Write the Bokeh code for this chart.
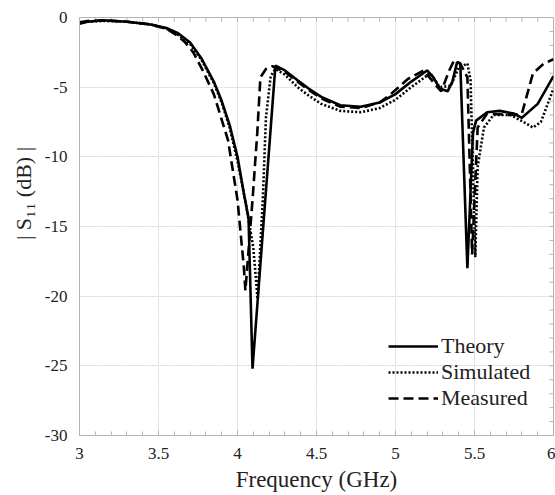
from bokeh.plotting import figure
from bokeh.models import Range1d, Legend, LegendItem, FixedTicker
from bokeh.embed import file_html
from bokeh.resources import INLINE

# ---- data ----
theory_f = [3.0, 3.05, 3.15, 3.3, 3.45, 3.55, 3.62, 3.7, 3.77, 3.85, 3.9, 3.95, 4.0, 4.04, 4.07,
            4.095, 4.24, 4.3, 4.38, 4.45, 4.53, 4.65, 4.78, 4.9, 5.0, 5.1, 5.2, 5.24, 5.28, 5.33,
            5.36, 5.39, 5.41, 5.455, 5.49, 5.51, 5.58, 5.66, 5.75, 5.8, 5.9, 6.0]
theory_db = [-0.45, -0.3, -0.2, -0.3, -0.5, -0.75, -1.1, -1.8, -2.9, -4.6, -6.0, -7.7, -10.0, -12.6, -14.4,
             -25.2, -3.45, -3.8, -4.5, -5.1, -5.7, -6.3, -6.4, -6.1, -5.5, -4.6, -3.8, -4.3, -5.1, -5.3,
             -4.6, -3.2, -3.3, -18.0, -8.3, -7.4, -6.8, -6.7, -6.9, -7.2, -6.2, -4.2]

sim_f = [3.0, 3.05, 3.15, 3.3, 3.45, 3.55, 3.62, 3.7, 3.77, 3.85, 3.9, 3.95, 4.0, 4.05, 4.1,
         4.127, 4.16, 4.18, 4.21, 4.24, 4.3, 4.38, 4.45, 4.53, 4.65, 4.78, 4.9, 5.0, 5.1, 5.16,
         5.22, 5.28, 5.35, 5.40, 5.455, 5.475, 5.505, 5.52, 5.56, 5.62, 5.73, 5.81, 5.87, 5.92, 6.0]
sim_db = [-0.4, -0.3, -0.25, -0.3, -0.5, -0.8, -1.2, -1.9, -3.0, -4.7, -6.1, -7.9, -10.3, -13.2, -16.5,
          -20.2, -13.1, -7.2, -4.2, -3.7, -4.1, -5.0, -5.6, -6.2, -6.7, -6.8, -6.5, -5.9, -5.0, -4.5,
          -4.0, -5.0, -4.9, -3.6, -3.3, -4.5, -17.2, -10.7, -7.9, -7.0, -7.0, -7.5, -7.9, -7.5, -5.1]

meas_f = [3.0, 3.05, 3.15, 3.3, 3.45, 3.55, 3.62, 3.67, 3.72, 3.78, 3.85, 3.94, 4.0, 4.04, 4.05,
          4.095, 4.125, 4.145, 4.18, 4.22, 4.3, 4.38, 4.45, 4.53, 4.65, 4.78, 4.9, 4.97, 5.08, 5.18,
          5.25, 5.29, 5.34, 5.37, 5.41, 5.455, 5.485, 5.52, 5.58, 5.73, 5.80, 5.87, 5.94, 6.0]
meas_db = [-0.35, -0.25, -0.2, -0.3, -0.5, -0.8, -1.3, -1.8, -2.5, -3.8, -5.5, -8.8, -13.1, -17.9, -19.6,
           -13.1, -8.3, -4.3, -3.7, -3.5, -3.9, -4.6, -5.2, -5.8, -6.4, -6.5, -6.1, -5.5, -4.4, -3.8,
           -4.8, -5.3, -3.8, -3.1, -3.3, -4.3, -17.0, -7.9, -6.9, -7.0, -6.9, -4.0, -3.3, -3.0]

x_ticks = [3, 3.5, 4, 4.5, 5, 5.5, 6]
x_tick_labels = ["3", "3.5", "4", "4.5", "5", "5.5", "6"]
y_ticks = [0, -5, -10, -15, -20, -25, -30]
y_tick_labels = ["0", "-5", "-10", "-15", "-20", "-25", "-30"]
x_minor = [round(3 + 0.1 * i, 1) for i in range(31)]
y_minor = [-i for i in range(31)]

SERIF = "Liberation Serif"
GRAY = "#b4b4b4"
TXT = "#222222"

X0, X1, Y0, Y1 = 3, 6, -30, 0

p = figure(width=555, height=495, x_range=Range1d(X0, X1), y_range=Range1d(Y0, Y1),
           output_backend="svg", toolbar_location=None,
           min_border_left=79, min_border_right=2, min_border_top=17, min_border_bottom=60)
p.background_fill_color = "white"
p.border_fill_color = "white"
p.outline_line_color = GRAY

xt = FixedTicker(ticks=x_ticks, minor_ticks=x_minor)
yt = FixedTicker(ticks=y_ticks, minor_ticks=y_minor)
p.xaxis.ticker = xt
p.yaxis.ticker = yt
p.xaxis.major_label_overrides = dict(zip(x_ticks, x_tick_labels))
p.yaxis.major_label_overrides = dict(zip(y_ticks, y_tick_labels))

for ax in (p.xaxis, p.yaxis):
    ax.axis_line_color = GRAY
    ax.major_tick_line_color = GRAY
    ax.minor_tick_line_color = GRAY
    ax.major_tick_out = 0
    ax.minor_tick_out = 0
    ax.major_label_text_font = SERIF
    ax.major_label_text_font_size = "17px"
    ax.major_label_text_color = TXT
    ax.axis_label_text_font = SERIF
    ax.axis_label_text_font_style = "normal"
    ax.axis_label_text_color = TXT

p.xaxis.major_tick_in = 5
p.xaxis.minor_tick_in = 4
p.yaxis.major_tick_in = 0
p.yaxis.minor_tick_in = 0
p.xaxis.major_label_standoff = 12
p.yaxis.major_label_standoff = 12
p.xaxis.axis_label = "Frequency (GHz)"
p.xaxis.axis_label_text_font_size = "23px"
p.xaxis.axis_label_standoff = 5
# leading no-break spaces move the title up, as in the reference
p.yaxis.axis_label = "\u00a0" * 12 + "| S\u2081\u2081 (dB) |"
p.yaxis.axis_label_text_font_size = "22px"
p.yaxis.axis_label_standoff = 6

p.xgrid.ticker = xt
p.ygrid.ticker = yt
p.xgrid.grid_line_color = "#d6d6d6"
p.ygrid.grid_line_color = "#d6d6d6"
p.xgrid.grid_line_dash = "2 1"
p.ygrid.grid_line_dash = "2 1"

# inward tick marks on the top and right frame edges (positions from the tick lists)
TICK_DB = 0.3      # tick length in dB units (~4 px)
TICK_GHZ = 0.026   # tick length in GHz units (~4 px)
p.segment(x0=x_minor, y0=[Y1] * len(x_minor), x1=x_minor, y1=[Y1 - TICK_DB] * len(x_minor),
          line_color=GRAY, line_width=1)
p.segment(x0=[X1] * len(y_minor), y0=y_minor, x1=[X1 - TICK_GHZ] * len(y_minor), y1=y_minor,
          line_color=GRAY, line_width=1)

r1 = p.line(theory_f, theory_db, line_color="black", line_width=2.6)
r2 = p.line(sim_f, sim_db, line_color="black", line_width=2.6, line_dash="2 2")
r3 = p.line(meas_f, meas_db, line_color="black", line_width=2.6, line_dash="10 5")

legend = Legend(items=[LegendItem(label="Theory", renderers=[r1]),
                       LegendItem(label="Simulated", renderers=[r2]),
                       LegendItem(label="Measured", renderers=[r3])],
                location=(309, 24))
legend.margin = 0
legend.padding = 0
legend.spacing = 0
legend.glyph_width = 50
legend.glyph_height = 22
legend.label_height = 22
legend.label_standoff = 3
legend.label_text_font = SERIF
legend.label_text_font_size = "22px"
legend.label_text_line_height = 1.0
legend.label_text_color = TXT
legend.background_fill_alpha = 0
legend.border_line_alpha = 0
p.add_layout(legend)

open("out.html", "w").write(file_html(p, INLINE))
